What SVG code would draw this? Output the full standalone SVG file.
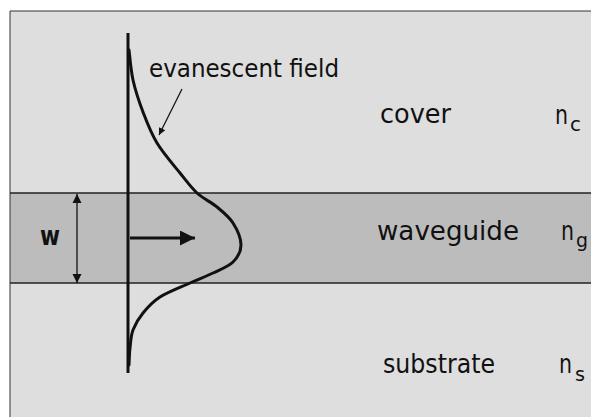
<svg xmlns="http://www.w3.org/2000/svg" width="591" height="417" viewBox="0 0 591 417">
  <style>
    .lbl { font-family: "DejaVu Sans", "Liberation Sans", sans-serif; fill: #111; }
    .big { font-size: 26px; }
    .sub { font-size: 19px; }
    .iface { stroke: #222; stroke-width: 1.5; fill: none; }
    .thin { stroke: #111; stroke-width: 1.3; fill: none; }
  </style>
  <defs>
    <marker id="ah" viewBox="0 0 10 10" refX="10" refY="5" markerWidth="9" markerHeight="10" markerUnits="userSpaceOnUse" orient="auto-start-reverse">
      <path d="M0,0 L10,5 L0,10 z" fill="#111"/>
    </marker>
    <marker id="ahs" viewBox="0 0 10 10" refX="10" refY="5" markerWidth="9" markerHeight="7" markerUnits="userSpaceOnUse" orient="auto">
      <path d="M0,0 L10,5 L0,10 z" fill="#111"/>
    </marker>
    <marker id="ahb" viewBox="0 0 10 10" refX="10" refY="5" markerWidth="16" markerHeight="15" markerUnits="userSpaceOnUse" orient="auto">
      <path d="M0,0 L10,5 L0,10 z" fill="#111"/>
    </marker>
  </defs>

  <rect x="0" y="0" width="591" height="417" fill="#ffffff"/>

  <g id="cover">
    <rect x="10" y="11" width="581" height="182" fill="#dedede"/>
    <text class="lbl big" x="380" y="123" textLength="71" lengthAdjust="spacingAndGlyphs">cover</text>
    <text class="lbl big" x="555" y="124" textLength="13" lengthAdjust="spacingAndGlyphs">n</text>
    <text class="lbl sub" x="570" y="131" textLength="11" lengthAdjust="spacingAndGlyphs">c</text>
  </g>

  <g id="waveguide">
    <rect x="10" y="193" width="581" height="90" fill="#bcbcbc"/>
    <text class="lbl big" x="377" y="240" textLength="142" lengthAdjust="spacingAndGlyphs">waveguide</text>
    <text class="lbl big" x="561" y="240" textLength="13" lengthAdjust="spacingAndGlyphs">n</text>
    <text class="lbl sub" x="576" y="247" textLength="12" lengthAdjust="spacingAndGlyphs">g</text>
    <text class="lbl big" x="40" y="245" font-weight="bold" textLength="20" lengthAdjust="spacingAndGlyphs">w</text>
  </g>

  <g id="substrate">
    <rect x="10" y="283" width="581" height="134" fill="#dedede"/>
    <text class="lbl big" x="383" y="373" textLength="112" lengthAdjust="spacingAndGlyphs">substrate</text>
    <text class="lbl big" x="559" y="373" textLength="13" lengthAdjust="spacingAndGlyphs">n</text>
    <text class="lbl sub" x="575" y="381" textLength="10" lengthAdjust="spacingAndGlyphs">s</text>
  </g>

  <g id="frame">
    <path d="M10,417 L10,11 L591,11" fill="none" stroke="#333" stroke-width="1"/>
    <line class="iface" x1="10" y1="193" x2="591" y2="193"/>
    <line class="iface" x1="10" y1="283" x2="591" y2="283"/>
  </g>

  <g id="field">
    <line x1="128" y1="33" x2="128" y2="373" stroke="#111" stroke-width="3"/>
    <path d="M129,50 C129.7,55 130.7,69.7 133,80 C135.3,90.3 139,101.5 143,112 C147,122.5 150.8,132.8 157,143 C163.2,153.2 173.3,164.7 180,173 C186.7,181.3 190.8,187.3 197,193 C203.2,198.7 211,202 217,207 C223,212 229,216.7 233,223 C237,229.3 241,238.5 241,245 C241,251.5 237.7,257.3 233,262 C228.3,266.7 220.2,269.5 213,273 C205.8,276.5 198.8,279 190,283 C181.2,287 167.8,292 160,297 C152.2,302 147.5,307.5 143,313 C138.5,318.5 135.2,324.2 133,330 C130.8,335.8 130.7,342.2 130,348 C129.3,353.8 129.2,362.2 129,365" fill="none" stroke="#111" stroke-width="3" stroke-linecap="round"/>
    <text class="lbl" font-size="25" x="149" y="77" textLength="190" lengthAdjust="spacingAndGlyphs">evanescent field</text>
  </g>

  <g id="connectors">
    <line class="thin" x1="182" y1="89" x2="159" y2="135" marker-end="url(#ahs)"/>
    <line x1="130" y1="238" x2="195" y2="238" stroke="#111" stroke-width="3" marker-end="url(#ahb)"/>
    <line class="thin" x1="77" y1="194" x2="77" y2="283" marker-start="url(#ah)" marker-end="url(#ah)"/>
  </g>
</svg>
